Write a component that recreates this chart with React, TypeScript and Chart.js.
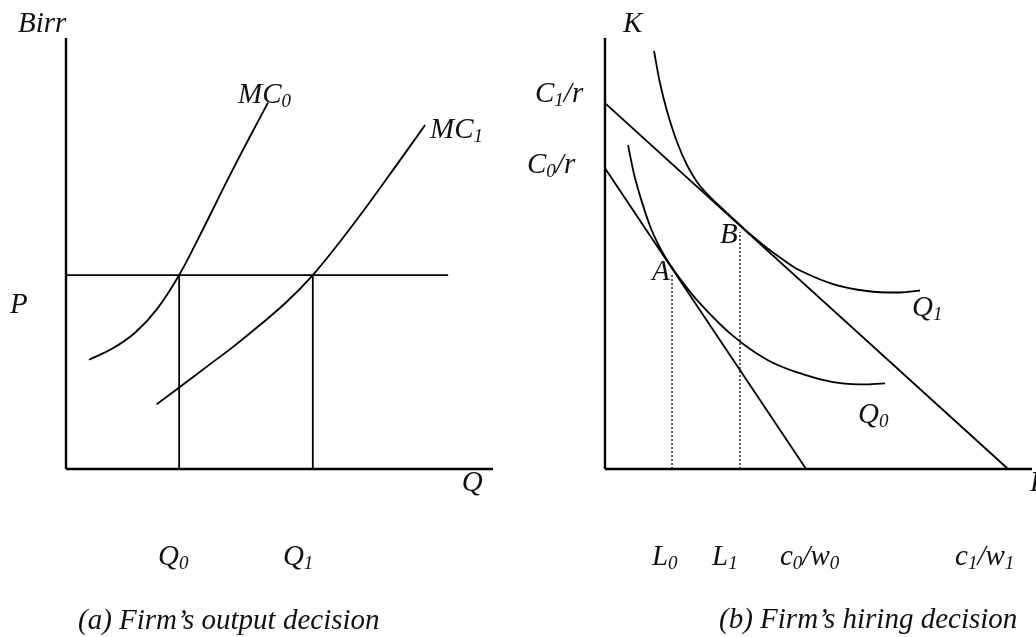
import React, { useEffect, useRef } from "react";
import { Chart, registerables } from "chart.js";

Chart.register(...registerables);

// ---------- Panel (a): firm's output decision ----------
const mc0X = [5.39, 10.77, 16.16, 21.31, 26.5, 31.38, 39.11, 47.31];
const mc0Y = [25.36, 27.89, 31.62, 37.1, 45.0, 54.27, 69.58, 85.01];
const mc1X = [21.2, 26.5, 32.9, 39.2, 45.4, 51.7, 57.8, 64.2, 70.4, 77.4, 84.1];
const mc1Y = [15.0, 18.9, 23.7, 28.4, 33.4, 38.8, 45.0, 52.8, 60.9, 70.5, 79.8];
const priceLevel = 45.0;
const priceLineEnd = 89.5;
const outputQ0 = 26.5;
const outputQ1 = 57.8;

// ---------- Panel (b): firm's hiring decision ----------
const isoQ0X = [5.39, 6.79, 8.43, 10.54, 12.41, 14.52, 18.27, 22.25, 29.98, 37.94, 46.25, 53.4, 59.72, 65.57];
const isoQ0Y = [75.17, 68.45, 62.65, 56.38, 52.2, 48.49, 43.2, 38.42, 30.88, 25.36, 21.99, 20.15, 19.63, 19.86];
const isoQ1X = [11.48, 12.88, 14.52, 16.86, 19.2, 21.55, 23.89, 26.93, 29.27, 31.62, 34.43, 37.94, 42.15, 45.67, 53.4, 61.36, 69.09, 73.77];
const isoQ1Y = [96.98, 89.56, 83.06, 75.87, 70.53, 66.59, 63.81, 60.9, 58.75, 56.61, 54.11, 51.28, 48.26, 46.06, 42.92, 41.3, 40.95, 41.42];
const budget0 = { kIntercept: 69.8, lIntercept: 47.1 };
const budget1 = { kIntercept: 84.9, lIntercept: 94.4 };
const labourL0 = 15.7;
const labourL0Top = 45.0;
const labourL1 = 31.6;
const labourL1Top = 55.0;

// Text labels ("_x" = subscript x), anchored in each panel's data units
const labelsA = [
  { text: "Birr", x: -11.24, y: 101.4 },
  { text: "MC_0", x: 40.28, y: 84.9 },
  { text: "MC_1", x: 85.25, y: 76.8 },
  { text: "P", x: -13.1, y: 36.2 },
  { text: "Q", x: 92.7, y: -5.1 },
  { text: "Q_0", x: 21.55, y: -22.3 },
  { text: "Q_1", x: 50.8, y: -22.3 },
  { text: "(a) Firm\u2019s output decision", x: 2.81, y: -37.1 },
];
const labelsB = [
  { text: "K", x: 4.22, y: 101.4 },
  { text: "C_1/r", x: -16.39, y: 85.15 },
  { text: "C_0/r", x: -18.27, y: 68.68 },
  { text: "B", x: 26.93, y: 52.44 },
  { text: "A", x: 11.01, y: 43.85 },
  { text: "Q_1", x: 71.9, y: 35.5 },
  { text: "Q_0", x: 59.25, y: 10.67 },
  { text: "L", x: 99.53, y: -5.1 },
  { text: "L_0", x: 11.0, y: -22.3 },
  { text: "L_1", x: 25.06, y: -22.3 },
  { text: "c_0/w_0", x: 40.98, y: -22.3 },
  { text: "c_1/w_1", x: 81.97, y: -22.3 },
  { text: "(b) Firm\u2019s hiring decision", x: 26.7, y: -36.9 },
];

const MAIN_FONT = 'italic 29px "Liberation Serif", serif';
const SUB_FONT = 'italic 19px "Liberation Serif", serif';
const INK = "#000";

function parseRich(text: string) {
  const parts: { t: string; sub: boolean }[] = [];
  let buf = "";
  for (let i = 0; i < text.length; i++) {
    if (text[i] === "_" && i + 1 < text.length) {
      if (buf) parts.push({ t: buf, sub: false });
      buf = "";
      parts.push({ t: text[i + 1], sub: true });
      i++;
    } else buf += text[i];
  }
  if (buf) parts.push({ t: buf, sub: false });
  return parts;
}

const textPlugin = {
  id: "panelText",
  afterDatasetsDraw(chart: any, _args: any, opts: any) {
    const ctx = chart.ctx;
    const xs = chart.scales.x;
    const ys = chart.scales.y;
    ctx.save();
    ctx.fillStyle = "#111";
    ctx.textBaseline = "alphabetic";
    ctx.textAlign = "left";
    for (const lab of opts.labels || []) {
      let cx = xs.getPixelForValue(lab.x);
      const cy = ys.getPixelForValue(lab.y);
      for (const p of parseRich(lab.text)) {
        ctx.font = p.sub ? SUB_FONT : MAIN_FONT;
        ctx.fillText(p.t, cx, cy + (p.sub ? 4 : 0));
        cx += ctx.measureText(p.t).width;
      }
    }
    ctx.restore();
  },
};

const pts = (xs: number[], ys: number[]) => xs.map((x, i) => ({ x, y: ys[i] }));

const solid = (data: any[], width = 1.8, curve = false) => ({
  data,
  showLine: true,
  borderColor: INK,
  borderWidth: width,
  pointRadius: 0,
  fill: false,
  clip: false,
  tension: curve ? 0.4 : 0,
  borderCapStyle: "butt",
});

const dotted = (data: any[]) => ({
  ...solid(data, 1.6),
  borderDash: [2, 2],
  borderColor: "#333",
});

function makeConfig(datasets: any[], labels: any[], padding: any) {
  return {
    type: "scatter",
    data: { datasets },
    plugins: [textPlugin],
    options: {
      animation: false,
      responsive: false,
      devicePixelRatio: 1,
      events: [],
      layout: { padding },
      scales: {
        x: { type: "linear", min: 0, max: 100, display: false },
        y: { type: "linear", min: 0, max: 100, display: false },
      },
      plugins: {
        legend: { display: false },
        tooltip: { enabled: false },
        panelText: { labels },
      },
    },
  };
}

export default function App() {
  const leftRef = useRef<HTMLCanvasElement>(null);
  const rightRef = useRef<HTMLCanvasElement>(null);

  useEffect(() => {
    document.body.style.margin = "0";
    const axes = [
      solid([{ x: 0, y: 0 }, { x: 0, y: 100 }], 2.4),
      solid([{ x: 0, y: 0 }, { x: 100, y: 0 }], 2.4),
    ];
    const dsA = [
      ...axes,
      solid([{ x: 0, y: priceLevel }, { x: priceLineEnd, y: priceLevel }]),
      solid([{ x: outputQ0, y: 0 }, { x: outputQ0, y: priceLevel }]),
      solid([{ x: outputQ1, y: 0 }, { x: outputQ1, y: priceLevel }]),
      solid(pts(mc0X, mc0Y), 1.8, true),
      solid(pts(mc1X, mc1Y), 1.8, true),
    ];
    const dsB = [
      ...axes,
      solid([{ x: 0, y: budget0.kIntercept }, { x: budget0.lIntercept, y: 0 }]),
      solid([{ x: 0, y: budget1.kIntercept }, { x: budget1.lIntercept, y: 0 }]),
      solid(pts(isoQ0X, isoQ0Y), 1.8, true),
      solid(pts(isoQ1X, isoQ1Y), 1.8, true),
      dotted([{ x: labourL0, y: 0 }, { x: labourL0, y: labourL0Top }]),
      dotted([{ x: labourL1, y: 0 }, { x: labourL1, y: labourL1Top }]),
    ];
    const a = new Chart(
      leftRef.current as any,
      makeConfig(dsA, labelsA, { left: 66, top: 38, right: 543, bottom: 168 }) as any
    );
    const b = new Chart(
      rightRef.current as any,
      makeConfig(dsB, labelsB, { left: 605, top: 38, right: 4, bottom: 168 }) as any
    );
    return () => {
      a.destroy();
      b.destroy();
    };
  }, []);

  const cs: React.CSSProperties = { position: "absolute", left: 0, top: 0, width: 1036, height: 637 };
  return (
    <div style={{ position: "relative", width: 1036, height: 637, background: "#fff", overflow: "hidden" }}>
      <canvas ref={leftRef} width={1036} height={637} style={cs} />
      <canvas ref={rightRef} width={1036} height={637} style={cs} />
    </div>
  );
}
